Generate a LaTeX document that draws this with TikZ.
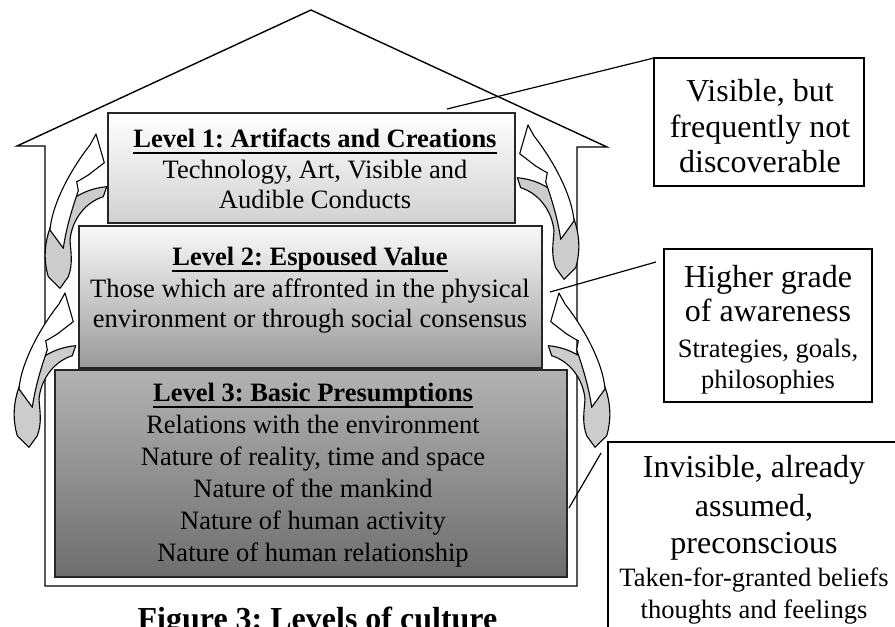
\documentclass[tikz,border=0pt]{standalone}
\usepackage{fontspec}
\setmainfont{Liberation Serif}
\frenchspacing
\tikzset{
  every node/.style={inner sep=0pt, outer sep=0pt},
  body/.style={font=\fontsize{26.5}{31}\selectfont, anchor=base},
  big/.style={font=\fontsize{32}{38}\selectfont, anchor=base},
  heading/.style={font=\fontsize{26.5}{31}\selectfont\bfseries, anchor=base},
  caption/.style={font=\fontsize{32}{38}\selectfont\bfseries, anchor=base},
  levelbox/.style={draw=black!85, line width=2pt, rectangle},
  callout/.style={draw=black, line width=1.4pt, fill=white, rectangle},
  leader/.style={draw=black, line width=1.2pt},
  house/.style={draw=black, line width=1.4pt, fill=white, line join=miter},
  front/.style={draw=black, line width=1.1pt, fill=white, line join=round},
  back/.style={draw=black, line width=1.1pt, fill=black!20, line join=round},
  uline/.style={draw=black, line width=2pt},
  % twisted ribbon arrow, origin at the arrow tip
  twist/.pic={
    \path[back] (10.7,52.7) -- (7.3,62.7)
      .. controls (-10,68) and (-24,85) .. (-26,106)
      .. controls (-25,120) and (-23,130) .. (-27.7,142.7)
      -- (-36,154.3) -- (-47.7,142.7)
      .. controls (-53,125) and (-51,108) .. (-46,94)
      .. controls (-36,70) and (-15,55) .. cycle;
    \path[front] (0,0) -- (8.3,28.7) -- (-7.7,41) -- (-16,46) -- (-19.3,47.7)
      -- (-17.7,56.7)
      .. controls (-24,75) and (-30,95) .. (-32.7,114.3)
      -- (-46,96)
      .. controls (-44,70) and (-25,35) .. (-6,11) -- cycle;
  }
}
\begin{document}
\begin{tikzpicture}[x=1pt,y=-1pt]
\useasboundingbox (0,0) rectangle (895,627);

% house outline
\path[house] (45,586) -- (45,146) -- (17,146) -- (311,10) -- (607,147)
  -- (577,147) -- (577,586) -- cycle;

% circulating arrows along the walls
\pic at (96,134) {twist};
\pic at (65,293) {twist};
\pic[xscale=-1] at (528,125) {twist};
\pic[xscale=-1] at (559,293) {twist};

% the three levels
\node[levelbox, minimum width=407, minimum height=110, top color=white, bottom color=black!18] (lvl1) at (311.5,168) {};
\node[levelbox, minimum width=463, minimum height=142, top color=black!2, bottom color=black!40] (lvl2) at (310.5,297) {};
\node[levelbox, minimum width=512, minimum height=207, top color=black!30, bottom color=black!57] (lvl3) at (311,473.5) {};

\node[heading] (t1) at (315,147) {Level 1: Artifacts and Creations};
\path[uline] ([yshift=-6pt]t1.base west) -- ([yshift=-6pt]t1.base east);
\node[body] (t1a) at (315,178) {Technology, Art, Visible and};
\node[body] (t1b) at (315,208) {Audible Conducts};

\node[heading] (t2) at (310,265) {Level 2: Espoused Value};
\path[uline] ([yshift=-6pt]t2.base west) -- ([yshift=-6pt]t2.base east);
\node[body] (t2a) at (310,297) {Those which are affronted in the physical};
\node[body] (t2b) at (310,327) {environment or through social consensus};

\node[heading] (t3) at (313,401) {Level 3: Basic Presumptions};
\path[uline] ([yshift=-6pt]t3.base west) -- ([yshift=-6pt]t3.base east);
\node[body] (t3a) at (313,433) {Relations with the environment};
\node[body] (t3b) at (313,465) {Nature of reality, time and space};
\node[body] (t3c) at (313,497) {Nature of the mankind};
\node[body] (t3d) at (313,529) {Nature of human activity};
\node[body] (t3e) at (313,561) {Nature of human relationship};

% callouts
\node[callout, minimum width=210, minimum height=128] (vis) at (759,122) {};
\node[callout, minimum width=208, minimum height=153] (hig) at (768,325.5) {};
\node[callout, minimum width=292, minimum height=220] (inv) at (754,552) {};

\coordinate (v0) at (447,109);
\coordinate (h0) at (550,292);
\coordinate (h1) at (656,262);
\coordinate (i0) at (569,508);
\coordinate (i1) at (601,453);
\path[leader] (v0) -- (vis.north west);
\path[leader] (h0) -- (h1);
\path[leader] (i0) -- (i1);

\node[big] (va) at (760,101) {Visible, but};
\node[big] (vb) at (760,137) {frequently not};
\node[big] (vc) at (760,172) {discoverable};

\node[big] (ha) at (768,287) {Higher grade};
\node[big] (hb) at (768,321) {of awareness};
\node[body] (hc) at (768,357) {Strategies, goals,};
\node[body] (hd) at (768,388) {philosophies};

\node[big] (ia) at (754,477) {Invisible, already};
\node[big] (ib) at (754,516) {assumed,};
\node[big] (ic) at (754,553) {preconscious};
\node[body] (id) at (754,586) {Taken-for-granted beliefs};
\node[body] (ie) at (754,618) {thoughts and feelings};

\node[caption] (cap) at (317.5,629) {Figure 3: Levels of culture};
\end{tikzpicture}
\end{document}
